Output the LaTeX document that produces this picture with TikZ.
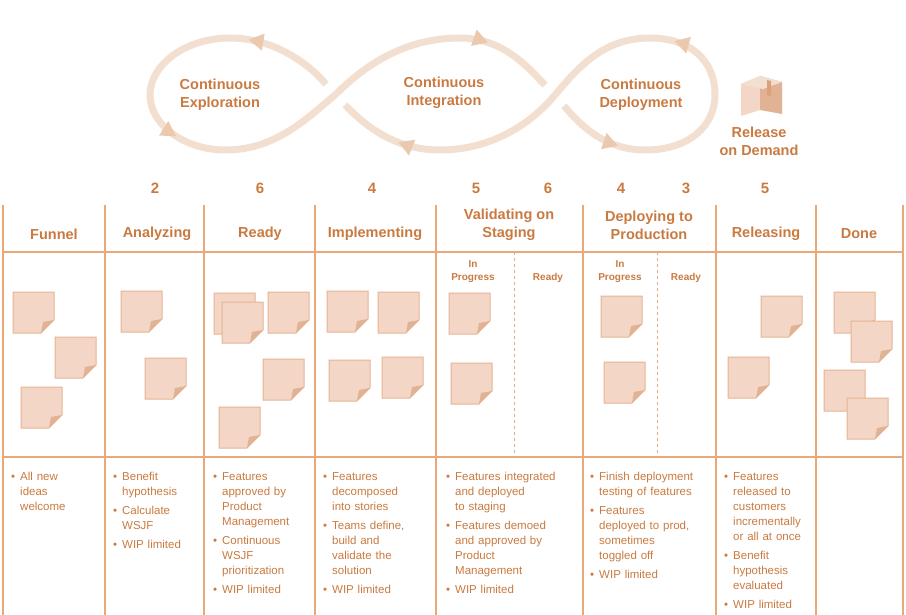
\documentclass[tikz,border=0pt]{standalone}
\usepackage{fontspec}
\setmainfont{Liberation Sans}
\usetikzlibrary{decorations.markings,arrows.meta}
\definecolor{lineor}{HTML}{E8A878}
\definecolor{textor}{HTML}{C97A40}
\definecolor{notefill}{HTML}{F4D6C6}
\definecolor{notedraw}{HTML}{E6B392}
\definecolor{foldfill}{HTML}{E2B294}
\definecolor{loopcol}{HTML}{F3DFD0}
\definecolor{looptip}{HTML}{EBC9AF}
\newcommand{\bitem}[1]{\par\hangindent=9pt\hangafter=1\makebox[9pt][l]{\textbullet}#1\par\vspace{4pt}}
\newcommand{\sticky}[2]{%
  \draw[notebox] (#1,#2) -- ++(41,0) -- ++(0,28) -- ++(-13,13) -- ++(-28,0) -- cycle;
  \fill[foldfill] (#1+41,#2+28) -- (#1+30,#2+30) -- (#1+28,#2+41) -- cycle;}
\tikzset{
  notebox/.style={fill=notefill, draw=notedraw, line width=1pt},
  board/.style={draw=lineor, line width=2pt},
  loopline/.style={draw=loopcol, line width=7pt},
  looparrow/.style={postaction={decorate, decoration={markings,
      mark=at position #1 with {\arrow[looptip]{Triangle[length=15pt,width=16pt]}}}}},
  title/.style={text=textor, font=\bfseries\fontsize{14.5}{18}\selectfont, align=center},
  count/.style={text=textor, font=\bfseries\fontsize{15}{17}\selectfont},
  sublabel/.style={text=textor, font=\bfseries\fontsize{10}{13}\selectfont, align=center},
  notes/.style={text=textor, font=\fontsize{11.5}{15}\selectfont, anchor=north west, inner sep=0pt},
}
\begin{document}
\begin{tikzpicture}[x=1pt, y=-1pt]
\useasboundingbox (0,0) rectangle (906,615);
% loop
\draw[loopline, looparrow=0.5] (150,95) .. controls (150,125) and (185,150) .. (225,150);
\draw[loopline] (225,150) .. controls (275,150) and (305,120) .. (335,95);
\draw[loopline] (335,95) .. controls (370,60) and (410,38) .. (460,38);
\draw[loopline, looparrow=0.25, shorten >=14pt] (460,38) .. controls (505,38) and (530,70) .. (555,95);
\draw[loopline, looparrow=0.75, shorten <=14pt] (555,95) .. controls (580,125) and (605,150) .. (645,150);
\draw[loopline] (645,150) .. controls (690,150) and (715,125) .. (715,95);
\draw[loopline, looparrow=0.75] (715,95) .. controls (715,60) and (690,38) .. (650,38);
\draw[loopline] (650,38) .. controls (605,38) and (580,65) .. (555,95);
\draw[loopline] (555,95) .. controls (530,125) and (490,150) .. (440,150);
\draw[loopline, looparrow=0.35, shorten >=14pt] (440,150) .. controls (390,150) and (360,120) .. (335,95);
\draw[loopline, looparrow=0.85, shorten <=14pt] (335,95) .. controls (310,65) and (275,38) .. (230,38);
\draw[loopline] (230,38) .. controls (185,38) and (150,65) .. (150,95);
\node[title] (explore) at (220,95) {Continuous\\Exploration};
\node[title] (integrate) at (444,93) {Continuous\\Integration};
\node[title] (deploy) at (641,95) {Continuous\\Deployment};
% box
\fill[notefill] (741,84) -- (760,76) -- (760,110) -- (741,116) -- cycle;
\fill[foldfill] (760,76) -- (782,82) -- (782,114) -- (760,110) -- cycle;
\fill[loopcol] (741,84) -- (760,76) -- (782,82) -- (763,89) -- cycle;
\fill[textor!70] (767,80) -- (771,81) -- (771,96) -- (767,95) -- cycle;
\node[title] (release) at (759,141) {Release\\on Demand};
% board
\foreach \x in {3,105,204,315,436,583,716,816,903}
  \draw[board] (\x,205) -- (\x,615);
\draw[board] (3,252) -- (903,252);
\draw[board] (3,457) -- (903,457);
\draw[lineor, line width=1pt, dashed] (514,252) -- (514,457);
\draw[lineor, line width=1pt, dashed] (657,252) -- (657,457);
% counts
\foreach \x/\n in {155/2, 260/6, 372/4, 476/5, 548/6, 621/4, 686/3, 765/5}
  \node[count] (c\x) at (\x,188) {\n};
% titles
\node[title] (funnel) at (54,234) {Funnel};
\node[title] (analyzing) at (157,234) {Analyzing};
\node[title] (ready) at (260,234) {Ready};
\node[title] (implementing) at (375,234) {Implementing};
\node[title] (validating) at (509,225) {Validating on\\Staging};
\node[title] (deploying) at (649,225) {Deploying to\\Production};
\node[title] (releasing) at (766,234) {Releasing};
\node[title] (done) at (859,234) {Done};
\node[sublabel] (vprog) at (473,272) {In\\Progress};
\node[sublabel] (vready) at (548,278) {Ready};
\node[sublabel] (dprog) at (620,272) {In\\Progress};
\node[sublabel] (dready) at (686,278) {Ready};
% stickies
\foreach \x/\y in {13/292, 55/337, 21/387, 121/291, 145/358,
    214/293, 222/302, 268/292, 263/359, 219/407,
    327/291, 378/292, 329/360, 382/357, 449/293, 451/363,
    601/296, 604/362, 761/296, 728/357,
    834/292, 851/321, 824/370, 847/398}
  {\sticky{\x}{\y}}
% notes
\node[notes, text width=90pt] (funnelnotes) at (11,465) {\bitem{All new\newline ideas\newline welcome}};
\node[notes, text width=90pt] (analyzingnotes) at (113,465) {\bitem{Benefit\newline hypothesis}\bitem{Calculate\newline WSJF}\bitem{WIP limited}};
\node[notes, text width=100pt] (readynotes) at (213,465) {\bitem{Features\newline approved by\newline Product\newline Management}\bitem{Continuous\newline WSJF\newline prioritization}\bitem{WIP limited}};
\node[notes, text width=110pt] (implnotes) at (323,465) {\bitem{Features\newline decomposed\newline into stories}\bitem{Teams define,\newline build and\newline validate the\newline solution}\bitem{WIP limited}};
\node[notes, text width=140pt] (validnotes) at (446,465) {\bitem{Features integrated\newline and deployed\newline to staging}\bitem{Features demoed\newline and approved by\newline Product\newline Management}\bitem{WIP limited}};
\node[notes, text width=130pt] (deploynotes) at (590,465) {\bitem{Finish deployment\newline testing of features}\bitem{Features\newline deployed to prod,\newline sometimes\newline toggled off}\bitem{WIP limited}};
\node[notes, text width=100pt] (releasenotes) at (724,465) {\bitem{Features\newline released to\newline customers\newline incrementally\newline or all at once}\bitem{Benefit\newline hypothesis\newline evaluated}\bitem{WIP limited}};
\end{tikzpicture}
\end{document}
